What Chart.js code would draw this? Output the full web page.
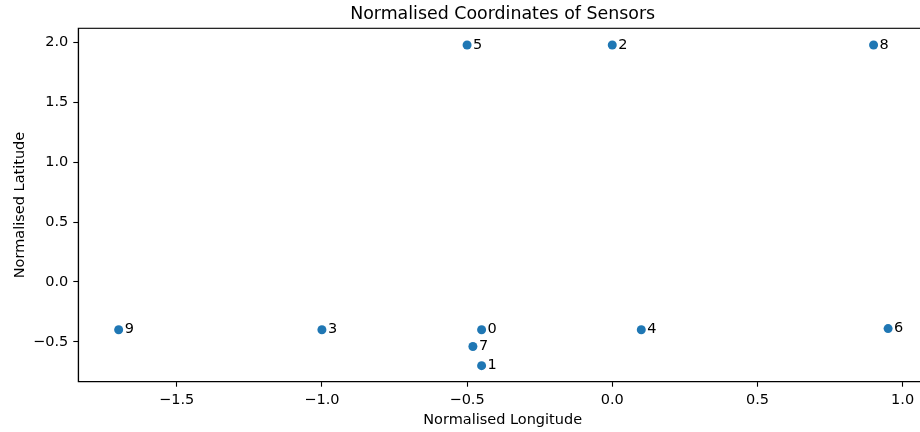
<!DOCTYPE html>
<html><head><meta charset="utf-8">
<script src="https://cdn.jsdelivr.net/npm/chart.js@4.4.1/dist/chart.umd.min.js"></script>
<style>html,body{margin:0;padding:0;background:#fff;overflow:hidden;width:920px;height:432px}#wrap{width:940px;height:432px}</style>
</head><body><div id="wrap"><canvas id="c" width="940" height="432"></canvas></div>
<script>
const sensorIds = ['0','1','2','3','4','5','6','7','8','9'];
const longitudes = [-0.45,-0.45,0.00,-1.00,0.10,-0.50,0.95,-0.48,0.90,-1.70];
const latitudes = [-0.40,-0.70,1.98,-0.40,-0.40,1.98,-0.39,-0.54,1.98,-0.40];
const xTicks = [-1.5,-1.0,-0.5,0.0,0.5,1.0];
const yTicks = [-0.5,0.0,0.5,1.0,1.5,2.0];
const xLimits = [-1.839, 1.084];
const yLimits = [-0.834, 2.120];
const chartTitle = 'Normalised Coordinates of Sensors';
const xLabel = 'Normalised Longitude';
const yLabel = 'Normalised Latitude';

const FONT = "'DejaVu Sans', sans-serif";
const FS = 14.5;
const fmt = v => (v<0?'\u2212':'')+Math.abs(v).toFixed(1);

const points = longitudes.map((x,i)=>({x:x,y:latitudes[i]}));

const decor = {
  id:'decor',
  afterDatasetsDraw(chart){
    const ctx=chart.ctx, a=chart.chartArea;
    const xs=chart.scales.x, ys=chart.scales.y;
    ctx.save();
    ctx.fillStyle='#000';
    ctx.font=FS+'px '+FONT;
    ctx.textAlign='left'; ctx.textBaseline='alphabetic';
    sensorIds.forEach((id,i)=>{
      ctx.fillText(id, xs.getPixelForValue(longitudes[i])+6, ys.getPixelForValue(latitudes[i])+3.5);
    });
    ctx.strokeStyle='#000'; ctx.lineWidth=1.1;
    ctx.strokeRect(a.left, a.top, a.right-a.left, a.bottom-a.top);
    ctx.font='17.4px '+FONT;
    ctx.textAlign='center'; ctx.textBaseline='middle';
    ctx.fillText(chartTitle,(a.left+a.right)/2,14.5);
    ctx.font=FS+'px '+FONT;
    ctx.fillText(xLabel,(a.left+a.right)/2,420);
    ctx.translate(20,(a.top+a.bottom)/2);
    ctx.rotate(-Math.PI/2);
    ctx.fillText(yLabel,0,0);
    ctx.restore();
  }
};

new Chart(document.getElementById('c'),{
  type:'scatter',
  data:{datasets:[{data:points,backgroundColor:'#1f77b4',borderColor:'#1f77b4',pointRadius:4.5,pointHoverRadius:4.5,borderWidth:0}]},
  options:{
    responsive:false,animation:false,
    layout:{padding:{top:28.3,right:13,left:0.3,bottom:0}},
    plugins:{legend:{display:false},tooltip:{enabled:false}},
    scales:{
      x:{type:'linear',min:xLimits[0],max:xLimits[1],
        afterBuildTicks:s=>{s.ticks=xTicks.map(v=>({value:v}));},
        afterFit:s=>{s.height=50.3;},
        ticks:{callback:v=>fmt(v),color:'#000',font:{family:FONT,size:FS},padding:5,maxRotation:0,autoSkip:false},
        grid:{drawOnChartArea:false,drawTicks:true,tickLength:5,color:'#000',tickWidth:1.1},
        border:{display:true,color:'#000',width:1.1}},
      y:{type:'linear',min:yLimits[0],max:yLimits[1],
        afterBuildTicks:s=>{s.ticks=yTicks.map(v=>({value:v}));},
        afterFit:s=>{s.width=78;},
        ticks:{callback:v=>fmt(v),color:'#000',font:{family:FONT,size:FS},padding:5,autoSkip:false},
        grid:{drawOnChartArea:false,drawTicks:true,tickLength:5,color:'#000',tickWidth:1.1},
        border:{display:true,color:'#000',width:1.1}}
    }
  },
  plugins:[decor]
});
</script></body></html>
